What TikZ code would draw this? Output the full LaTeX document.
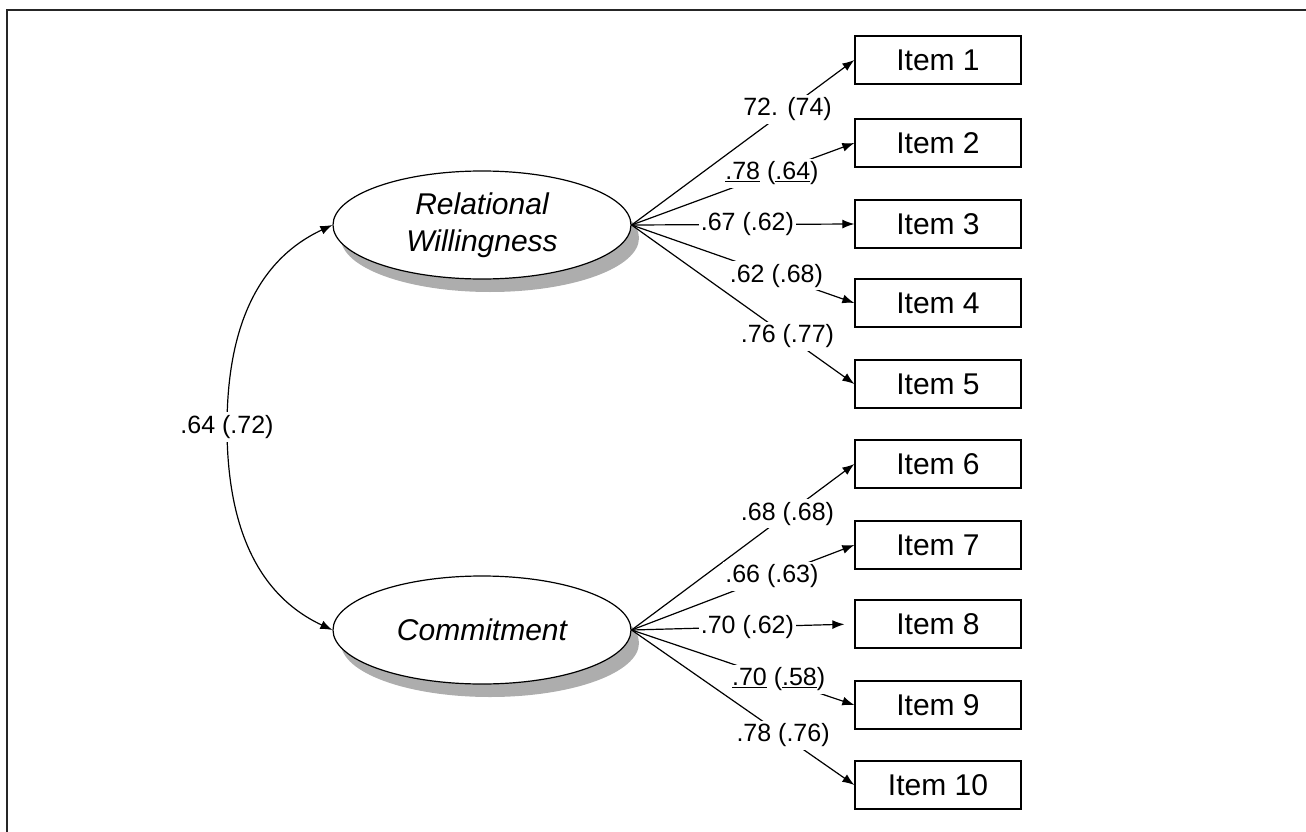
\documentclass[tikz,border=0pt]{standalone}
\usepackage{fontspec}
\setmainfont{Liberation Sans}
\usetikzlibrary{shapes.geometric,arrows.meta,shadows}
\begin{document}
\begin{tikzpicture}[x=1pt,y=-1pt,
 item/.style={draw,line width=1.3pt,minimum width=166pt,minimum height=48pt,inner sep=0pt,font=\fontsize{30}{32}\selectfont},
 latent/.style={draw,ellipse,line width=1.2pt,fill=white,minimum width=298pt,minimum height=108pt,inner sep=0pt,align=center,font=\fontsize{30}{37}\selectfont\itshape,
   drop shadow={shadow xshift=8pt,shadow yshift=-13pt,fill=black!32,opacity=1}},
 conn/.style={line width=1.2pt,-{Latex[length=12pt,width=9pt]}},
 lab/.style={fill=white,inner xsep=2pt,inner ysep=3pt,font=\fontsize{25}{27}\selectfont}]
\useasboundingbox (0,0) rectangle (1306,832);
\draw[line width=2pt,black!85] (7,832) -- (7,10) -- (1306,10);

\node[latent] (rw) at (482,225) {Relational\\Willingness};
\node[latent] (cm) at (482,630) {Commitment};

\node[item] (i1) at (938,60) {Item 1};
\node[item] (i2) at (938,143) {Item 2};
\node[item] (i3) at (938,224) {Item 3};
\node[item] (i4) at (938,303) {Item 4};
\node[item] (i5) at (938,384) {Item 5};
\node[item] (i6) at (938,464) {Item 6};
\node[item] (i7) at (938,545) {Item 7};
\node[item] (i8) at (938,624) {Item 8};
\node[item] (i9) at (938,705) {Item 9};
\node[item] (i10) at (938,785) {Item 10};

\draw[conn] (rw.east) -- node[lab,pos=0.70]{72. (74)} (i1.west);
\draw[conn] (rw.east) -- node[lab,pos=0.63]{\underline{.78} (\underline{.64})} (i2.west);
\draw[conn] (rw.east) -- node[lab,pos=0.52]{.67 (.62)} (i3.west);
\draw[conn] (rw.east) -- node[lab,pos=0.65]{.62 (.68)} (i4.west);
\draw[conn] (rw.east) -- node[lab,pos=0.70]{.76 (.77)} (i5.west);

\draw[conn] (cm.east) -- node[lab,pos=0.70]{.68 (.68)} (i6.west);
\draw[conn] (cm.east) -- node[lab,pos=0.63]{.66 (.63)} (i7.west);
\draw[conn,shorten >=10pt] (cm.east) -- node[lab,pos=0.52]{.70 (.62)} (i8.west);
\draw[conn] (cm.east) -- node[lab,pos=0.66]{\underline{.70} (\underline{.58})} (i9.west);
\draw[conn] (cm.east) -- node[lab,pos=0.68]{.78 (.76)} (i10.west);

\coordinate (m) at (227,427);
\draw[line width=1.2pt,{Latex[length=12pt,width=9pt]}-{Latex[length=12pt,width=9pt]}] (rw.west) to[out=205,in=90] (m) to[out=-90,in=155] (cm.west);
\node[lab] (ml) at (m) {.64 (.72)};
\end{tikzpicture}
\end{document}
